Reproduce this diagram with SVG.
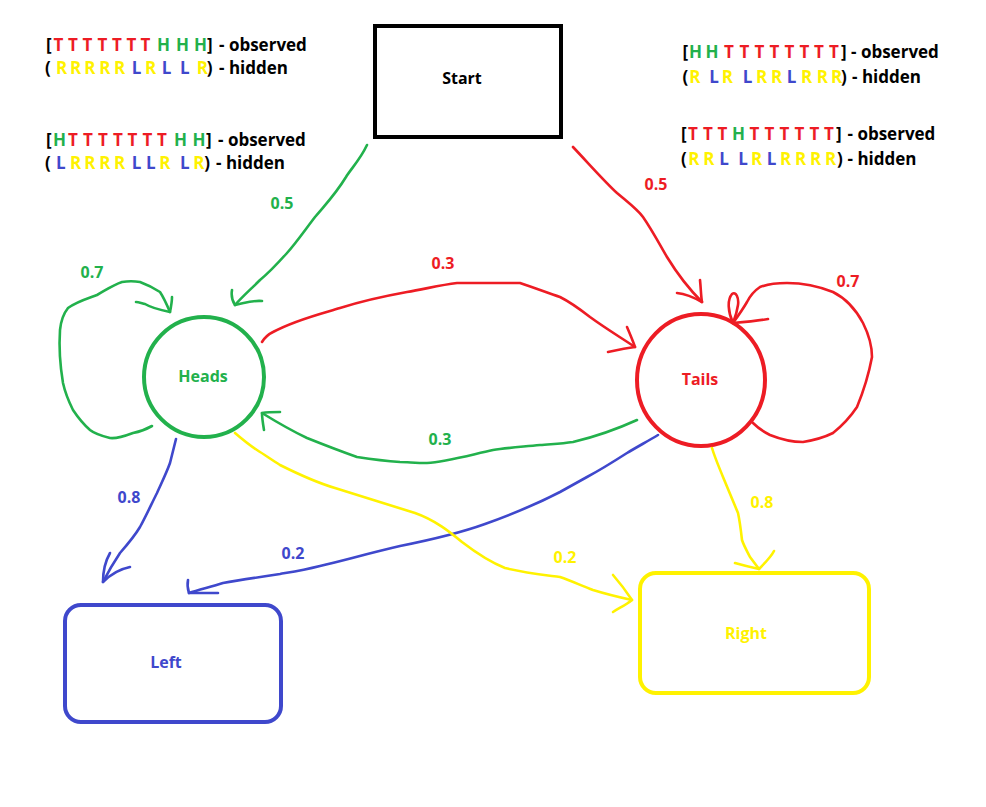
<svg xmlns="http://www.w3.org/2000/svg" width="986" height="807" viewBox="0 0 986 807">
<style>
text{font-family:"Open Sans","Noto Sans","DejaVu Sans",sans-serif;font-weight:bold;font-size:17px}
.k{fill:#000}.g{fill:#22b14c}.r{fill:#ed1c24}.b{fill:#3f48cc}.y{fill:#fff200}
.c{fill:none;stroke-width:2.6;stroke-linecap:round;stroke-linejoin:round}
.sg{stroke:#22b14c}.sr{stroke:#ed1c24}.sb{stroke:#3f48cc}.sy{stroke:#fff200}
.lbl{text-anchor:middle;font-size:16px}
</style>
<rect width="986" height="807" fill="#fff"/>
<g id="seq1">
<text y="51"><tspan class="k" x="46">[</tspan><tspan class="r" x="53.5">T</tspan><tspan class="r" x="68">T</tspan><tspan class="r" x="82.5">T</tspan><tspan class="r" x="97.5">T</tspan><tspan class="r" x="112">T</tspan><tspan class="r" x="126.5">T</tspan><tspan class="r" x="140.5">T</tspan><tspan class="g" x="157">H</tspan><tspan class="g" x="176">H</tspan><tspan class="g" x="194">H</tspan><tspan class="k" x="207">]</tspan><tspan class="k" x="219">- observed</tspan></text>
<text y="74"><tspan class="k" x="45">(</tspan><tspan class="y" x="56">R</tspan><tspan class="y" x="70">R</tspan><tspan class="y" x="84.3">R</tspan><tspan class="y" x="99.3">R</tspan><tspan class="y" x="114">R</tspan><tspan class="b" x="131.7">L</tspan><tspan class="y" x="145">R</tspan><tspan class="b" x="161.7">L</tspan><tspan class="b" x="180">L</tspan><tspan class="y" x="196.7">R</tspan><tspan class="k" x="206.7">)</tspan><tspan class="k" x="219">- hidden</tspan></text>
</g>
<g id="seq2">
<text y="146"><tspan class="k" x="46">[</tspan><tspan class="g" x="53">H</tspan><tspan class="r" x="68">T</tspan><tspan class="r" x="83">T</tspan><tspan class="r" x="98">T</tspan><tspan class="r" x="113">T</tspan><tspan class="r" x="127.5">T</tspan><tspan class="r" x="142.5">T</tspan><tspan class="r" x="157">T</tspan><tspan class="g" x="174">H</tspan><tspan class="g" x="192.5">H</tspan><tspan class="k" x="206">]</tspan><tspan class="k" x="218">- observed</tspan></text>
<text y="169"><tspan class="k" x="45">(</tspan><tspan class="b" x="56">L</tspan><tspan class="y" x="70">R</tspan><tspan class="y" x="84.3">R</tspan><tspan class="y" x="99.3">R</tspan><tspan class="y" x="114">R</tspan><tspan class="b" x="131.7">L</tspan><tspan class="b" x="146">L</tspan><tspan class="y" x="159.3">R</tspan><tspan class="b" x="180">L</tspan><tspan class="y" x="193.3">R</tspan><tspan class="k" x="204.3">)</tspan><tspan class="k" x="216">- hidden</tspan></text>
</g>
<g id="seq3">
<text y="58"><tspan class="k" x="682.5">[</tspan><tspan class="g" x="689">H</tspan><tspan class="g" x="705.5">H</tspan><tspan class="r" x="724">T</tspan><tspan class="r" x="739.5">T</tspan><tspan class="r" x="754.5">T</tspan><tspan class="r" x="769.5">T</tspan><tspan class="r" x="784.5">T</tspan><tspan class="r" x="799.5">T</tspan><tspan class="r" x="814">T</tspan><tspan class="r" x="829">T</tspan><tspan class="k" x="841">]</tspan><tspan class="k" x="851">- observed</tspan></text>
<text y="83"><tspan class="k" x="682.5">(</tspan><tspan class="y" x="689.3">R</tspan><tspan class="b" x="709.3">L</tspan><tspan class="y" x="721.7">R</tspan><tspan class="b" x="742.7">L</tspan><tspan class="y" x="756">R</tspan><tspan class="y" x="771">R</tspan><tspan class="b" x="786.7">L</tspan><tspan class="y" x="801">R</tspan><tspan class="y" x="816.7">R</tspan><tspan class="y" x="831">R</tspan><tspan class="k" x="841">)</tspan><tspan class="k" x="852">- hidden</tspan></text>
</g>
<g id="seq4">
<text y="140"><tspan class="k" x="681">[</tspan><tspan class="r" x="688">T</tspan><tspan class="r" x="703">T</tspan><tspan class="r" x="717.5">T</tspan><tspan class="g" x="732">H</tspan><tspan class="r" x="749.5">T</tspan><tspan class="r" x="764.5">T</tspan><tspan class="r" x="779.5">T</tspan><tspan class="r" x="794.5">T</tspan><tspan class="r" x="809.5">T</tspan><tspan class="r" x="824">T</tspan><tspan class="k" x="836">]</tspan><tspan class="k" x="847.5">- observed</tspan></text>
<text y="165"><tspan class="k" x="681">(</tspan><tspan class="y" x="688.3">R</tspan><tspan class="y" x="703.3">R</tspan><tspan class="b" x="719.3">L</tspan><tspan class="b" x="738.3">L</tspan><tspan class="y" x="751">R</tspan><tspan class="b" x="766.7">L</tspan><tspan class="y" x="780">R</tspan><tspan class="y" x="795">R</tspan><tspan class="y" x="810">R</tspan><tspan class="y" x="825">R</tspan><tspan class="k" x="837">)</tspan><tspan class="k" x="847.5">- hidden</tspan></text>
</g>
<g id="start">
<rect x="375" y="26" width="186" height="111" fill="none" stroke="#000" stroke-width="4"/>
<text class="k lbl" x="462" y="84">Start</text>
</g>
<g id="heads">
<circle cx="204" cy="377" r="60" fill="none" stroke="#22b14c" stroke-width="4"/>
<text class="g lbl" x="203" y="382">Heads</text>
</g>
<g id="tails">
<ellipse cx="701" cy="380" rx="64" ry="66" fill="none" stroke="#ed1c24" stroke-width="4"/>
<text class="r lbl" x="700" y="385">Tails</text>
</g>
<g id="left">
<rect x="65" y="605" width="216" height="117" rx="16" fill="none" stroke="#3f48cc" stroke-width="4"/>
<text class="b lbl" x="166" y="668">Left</text>
</g>
<g id="right">
<rect x="640" y="573" width="229" height="120" rx="16" fill="none" stroke="#fff200" stroke-width="4"/>
<text class="y lbl" x="746" y="639">Right</text>
</g>
<g id="connectors">
<path class="c sg" d="M367,145 C360,160 350,170 346,177 C335,195 325,205 315,217 C305,230 296,243 287,253 C278,263 270,272 260,280 C250,290 242,297 235,305"/>
<path class="c sg" d="M232,290 C231,296 233,302 235,305 C245,303 253,300 262,301"/>
<path class="c sr" d="M573,147 C590,165 605,182 617,193 C630,204 638,210 643,217 C652,230 660,245 667,257 C678,275 690,290 702,302"/>
<path class="c sr" d="M700,280 C701,290 701,297 702,302 C695,298 686,294 677,293"/>
<path class="c sr" d="M262,342 C265,337 269,334 273,332 C295,320 320,314 340,308 C365,300 385,296 407,292 C425,289 440,285 457,283 L520,283 C535,288 548,293 560,297 C572,303 581,310 590,317 C605,328 620,337 635,347"/>
<path class="c sr" d="M627,327 C630,334 633,341 635,347 C626,348 617,350 608,352"/>
<path class="c sg" d="M637,420 C615,430 590,438 573,442 C560,444 550,444 540,445 C520,447 505,448 493,450 C470,455 445,462 427,463 C415,463 408,462 400,462 C385,461 370,459 357,457 C340,451 322,444 307,438 C290,430 275,421 262,413"/>
<path class="c sg" d="M264,430 C263,424 262,418 262,413 C268,412 274,412 280,412"/>
<path class="c sg" d="M152,426 C145,430 138,432 133,433 C125,436 117,439 110,438 C102,436 95,434 90,430 C82,423 77,416 73,410 C68,400 65,392 63,383 C60,365 59,345 60,330 C61,320 64,313 68,308 C76,302 86,299 97,295 C106,290 113,285 122,282 C128,281 134,281 140,282 C148,285 154,288 160,292 C164,298 167,305 170,312"/>
<path class="c sg" d="M172,297 C172,302 171,307 170,312 C160,310 150,307 145,304 C141,303 138,302 136,302"/>
<path class="c sr" d="M753,423 C758,428 764,432 770,435 C780,439 792,442 803,442 C815,440 825,437 833,433 C843,425 851,416 857,407 C864,390 869,373 872,357 C872,345 868,333 863,323 C855,308 845,298 833,292 C818,286 802,283 787,283 C777,283 768,284 760,287 C754,291 750,296 747,302 C743,309 738,316 733,323"/>
<path class="c sr" d="M733,323 C728,312 727,300 732,294 C736,291 739,298 738,305 C737,312 735,318 733,323 C745,322 757,321 768,319"/>
<path class="c sb" d="M176,439 C174,447 172,455 170,463 C166,474 161,484 157,493 C151,505 146,516 140,527 C134,537 127,545 120,553 C114,562 108,572 103,582"/>
<path class="c sb" d="M110,553 C106,560 103,570 103,582 C110,575 120,569 130,567"/>
<path class="c sb" d="M658,435 C648,441 637,447 627,453 C613,462 600,470 587,477 C578,482 569,487 560,492 C535,505 510,515 485,524 C460,533 430,540 400,546 C370,553 345,560 320,566 C300,571 285,573 280,574 C260,577 240,580 223,583 C210,587 198,590 189,593"/>
<path class="c sb" d="M188,580 C187,585 188,590 189,593 C198,593 208,593 218,593"/>
<path class="c sy" d="M235,433 C242,439 249,445 257,450 C265,455 272,460 280,465 C300,475 318,483 335,488 C360,496 390,505 415,513 C435,520 450,532 462,542 C475,552 490,562 505,568 C525,573 545,575 560,577 C572,581 582,586 593,590 C606,594 618,597 632,600"/>
<path class="c sy" d="M613,575 C620,583 626,591 632,600 C626,605 619,608 613,612"/>
<path class="c sy" d="M712,448 C715,458 719,467 723,477 C728,489 733,501 738,513 C740,522 741,531 742,540 C744,546 747,551 750,557 C753,561 756,565 759,569"/>
<path class="c sy" d="M735,563 C742,565 750,567 759,569 C765,563 771,557 774,551"/>
</g>
<g id="labels">
<text class="g lbl" x="282" y="209">0.5</text>
<text class="r lbl" x="656" y="190">0.5</text>
<text class="r lbl" x="443" y="269">0.3</text>
<text class="g lbl" x="440" y="445">0.3</text>
<text class="g lbl" x="92" y="278">0.7</text>
<text class="r lbl" x="848" y="287">0.7</text>
<text class="b lbl" x="129" y="503">0.8</text>
<text class="b lbl" x="293" y="559">0.2</text>
<text class="y lbl" x="565" y="563">0.2</text>
<text class="y lbl" x="762" y="508">0.8</text>
</g>
</svg>
